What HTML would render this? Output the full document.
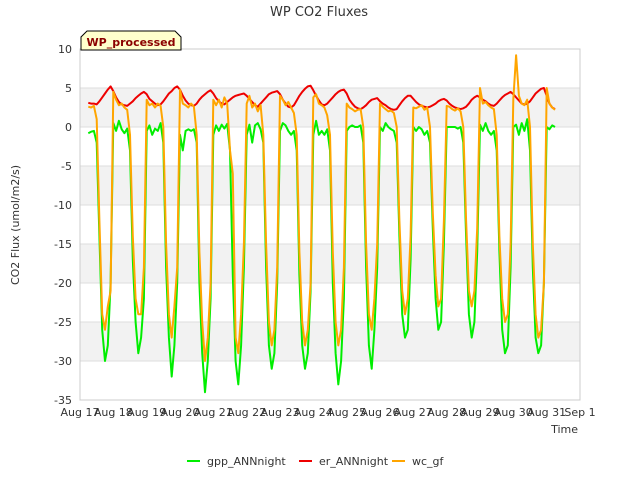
<!DOCTYPE html>
<html><head><meta charset="utf-8"><style>
body{margin:0;background:#fff;font-family:"Liberation Sans","DejaVu Sans",sans-serif}
svg text{font-family:"DejaVu Sans","Liberation Sans",sans-serif}
</style></head><body>
<svg id="chart" width="640" height="480" xmlns="http://www.w3.org/2000/svg">
<text x="319" y="16" text-anchor="middle" font-size="13" fill="#333">WP CO2 Fluxes</text>
<g id="bands"></g>
<g id="grid"></g>
<rect x="80" y="49" width="500" height="351" fill="none" stroke="#ccc"/>
<g id="series"></g>
<g id="axes"></g>
<text transform="translate(19,225) rotate(-90)" text-anchor="middle" font-size="11" fill="#333">CO2 Flux (umol/m2/s)</text>
<text x="578" y="433" text-anchor="end" font-size="11" fill="#333">Time</text>
<g>
<path d="M81,50 L81,37 L87,31 L175,31 L181,37 L181,50 Z" fill="#ffffcc" stroke="#000"/>
<text x="131" y="46" text-anchor="middle" font-size="11" font-weight="bold" fill="#8b0000">WP_processed</text>
</g>
<g id="legend"></g>
</svg>
<script>
const dayStart = 17;
const stepsPerDay = 12;
const gppValues = [
null,null,null,-0.8,-0.6,-0.5,-2,-14,-26,-30,-28,-20,
0.5,-0.5,0.8,-0.3,-0.8,-0.2,-3,-17,-25,-29,-27,-22,
-0.5,0.2,-1,-0.2,-0.5,0.5,-2,-18,-27,-32,-28,-20,
-1,-3,-0.5,-0.3,-0.5,-0.3,-2,-20,-29,-34,-30,-22,
-1,0.2,-0.5,0.3,-0.2,0.4,-3,-19,-30,-33,-28,-18,
-1,0.3,-2,0.2,0.5,-0.3,-2,-18,-28,-31,-29,-20,
-0.5,0.5,0.2,-0.5,-1,-0.5,-3,-19,-28,-31,-29,-21,
-1,0.8,-1,-0.5,-1,-0.3,-3,-20,-29,-33,-30,-22,
-0.5,0,0.2,0,0,0.2,-2,-18,-28,-31,-26,-18,
0,-0.5,0.5,0,-0.3,-0.5,-2,-14,-24,-27,-26,-17,
0,-0.5,0,-0.3,-1,-0.5,-2,-13,-22,-26,-25,-15,
0,0,0,0,-0.2,0,-2,-14,-24,-27,-25,-16,
0.3,-0.5,0.5,-0.5,-1,-0.5,-3,-16,-26,-29,-28,-18,
0,0.3,-1,0.5,-0.5,1,-3,-18,-27,-29,-28,-20,
0,-0.3,0.2,0
];
const erValues = [
null,null,null,3.1,3.0,3.0,2.9,3.3,3.8,4.3,4.8,5.2,
4.6,3.8,3.2,2.9,2.8,2.7,3.0,3.3,3.7,4.0,4.3,4.5,
4.2,3.6,3.3,3.0,2.8,2.9,3.3,3.8,4.3,4.6,5.0,5.2,
4.8,4.0,3.4,3.0,2.8,2.7,3.0,3.5,3.9,4.2,4.5,4.7,
4.3,3.7,3.3,3.0,2.9,3.2,3.5,3.8,4.0,4.1,4.2,4.3,
4.0,3.6,3.2,2.8,2.6,3.0,3.4,3.8,4.2,4.4,4.5,4.6,
4.2,3.5,3.0,2.6,2.5,2.8,3.4,4.0,4.5,4.9,5.2,5.3,
4.7,4.0,3.4,2.9,2.8,3.0,3.4,3.8,4.2,4.5,4.7,4.8,
4.3,3.5,3.0,2.6,2.4,2.3,2.5,2.8,3.2,3.5,3.6,3.7,
3.3,3.0,2.8,2.5,2.3,2.2,2.3,2.8,3.3,3.7,4.0,4.0,
3.6,3.2,2.9,2.7,2.6,2.5,2.6,2.8,3.0,3.3,3.5,3.6,
3.4,3.0,2.7,2.5,2.4,2.3,2.4,2.6,3.0,3.5,3.8,4.0,
3.8,3.5,3.3,3.0,2.8,2.7,3.0,3.4,3.8,4.1,4.3,4.5,
4.2,3.8,3.4,3.0,2.9,3.0,3.3,3.8,4.3,4.6,4.9,5.0,
4.0,3.0,2.5,2.3
];
const wcValues = [
null,null,null,2.6,2.5,2.7,1,-12,-24,-26,-23,-21,
4.5,3.5,2.8,3.0,2.5,2.2,-1,-14,-22,-24,-24,-18,
3.5,2.8,3.0,2.5,3.0,2.7,0,-15,-24,-27,-23,-18,
4.8,3.0,2.8,2.5,3.0,2.6,-1,-16,-25,-30,-27,-20,
3.5,2.8,3.5,2.5,3.8,3.0,-3,-6,-27,-29,-24,-15,
3.0,4.0,2.5,3.0,2.0,2.8,-1,-15,-25,-28,-26,-18,
4.0,3.5,2.8,3.2,2.5,1.8,-1,-16,-25,-28,-26,-20,
3.8,4.2,3.0,2.8,2.5,1.5,-1,-16,-25,-28,-26,-18,
3.0,2.5,2.3,2.0,2.2,2.3,0,-15,-24,-26,-22,-15,
3.0,2.6,2.3,2.0,2.1,1.8,0,-12,-21,-24,-22,-14,
2.5,2.4,2.6,2.8,2.2,2.5,0,-11,-19,-23,-22,-12,
2.7,2.6,2.3,2.1,2.4,2.0,0,-12,-21,-23,-21,-13,
5.0,3.0,3.2,2.8,2.5,2.3,-1,-14,-22,-25,-24,-15,
3.5,9.2,4.0,3.0,2.8,3.5,0,-15,-24,-27,-26,-20,
5.0,3.0,2.5,2.2
];
const yTicks = [10,5,0,-5,-10,-15,-20,-25,-30,-35];
const xTickLabels = ["Aug 17","Aug 18","Aug 19","Aug 20","Aug 21","Aug 22","Aug 23","Aug 24","Aug 25","Aug 26","Aug 27","Aug 28","Aug 29","Aug 30","Aug 31","Sep 1"];
const seriesNames = ["gpp_ANNnight","er_ANNnight","wc_gf"];
const seriesColors = ["#00ee00","#ee0000","#ffa500"];

const NS="http://www.w3.org/2000/svg";
const X0=80,X1=580,Y0=49,Y1=400,yMin=-35,yMax=10,xDays=15;
const xs=d=>X0+(d-dayStart)/xDays*(X1-X0);
const ys=v=>Y1-(v-yMin)/(yMax-yMin)*(Y1-Y0);
function mk(t,a,p){const e=document.createElementNS(NS,t);for(const k in a)e.setAttribute(k,a[k]);p.appendChild(e);return e;}
const bands=document.getElementById('bands'),grid=document.getElementById('grid'),axes=document.getElementById('axes');
for(let i=0;i<yTicks.length-1;i++){
  if(i%2===1){const r=mk('rect',{x:X0,y:ys(yTicks[i]),width:X1-X0,height:ys(yTicks[i+1])-ys(yTicks[i]),fill:'#f2f2f2'},bands);
  
  }
}
yTicks.forEach(v=>{
  const l=mk('line',{x1:X0,x2:X1,y1:ys(v),y2:ys(v),stroke:'#ddd'},grid);
  
  
  const t=mk('text',{x:X0-8,y:ys(v)+4,'text-anchor':'end','font-size':11,fill:'#333'},axes);
  t.textContent=v;
  
  
});
xTickLabels.forEach((s,i)=>{
  const t=mk('text',{x:xs(dayStart+i),y:416,'text-anchor':'middle','font-size':11,fill:'#333'},axes);
  t.textContent=s;
  
  
});
const ser=document.getElementById('series');
[gppValues,erValues,wcValues].forEach((arr,si)=>{
  let d='',pen=false;
  arr.forEach((v,i)=>{
    if(v===null){pen=false;return;}
    const x=xs(dayStart+i/stepsPerDay),y=ys(v);
    d+=(pen?'L':'M')+x.toFixed(1)+','+y.toFixed(1);pen=true;
  });
  const p=mk('path',{d:d,fill:'none',stroke:seriesColors[si],'stroke-width':2,'stroke-linejoin':'round'},ser);
  
  
});
const lg=document.getElementById('legend');
const lx=[187,299,392];
seriesNames.forEach((n,i)=>{
  const g=mk('g',{},lg);
  
  
  mk('line',{x1:lx[i],x2:lx[i]+13,y1:461,y2:461,stroke:seriesColors[i],'stroke-width':2},g);
  const t=mk('text',{x:lx[i]+20,y:465,'font-size':11,fill:'#333'},g);
  t.textContent=n;
});
</script>
</body></html>
